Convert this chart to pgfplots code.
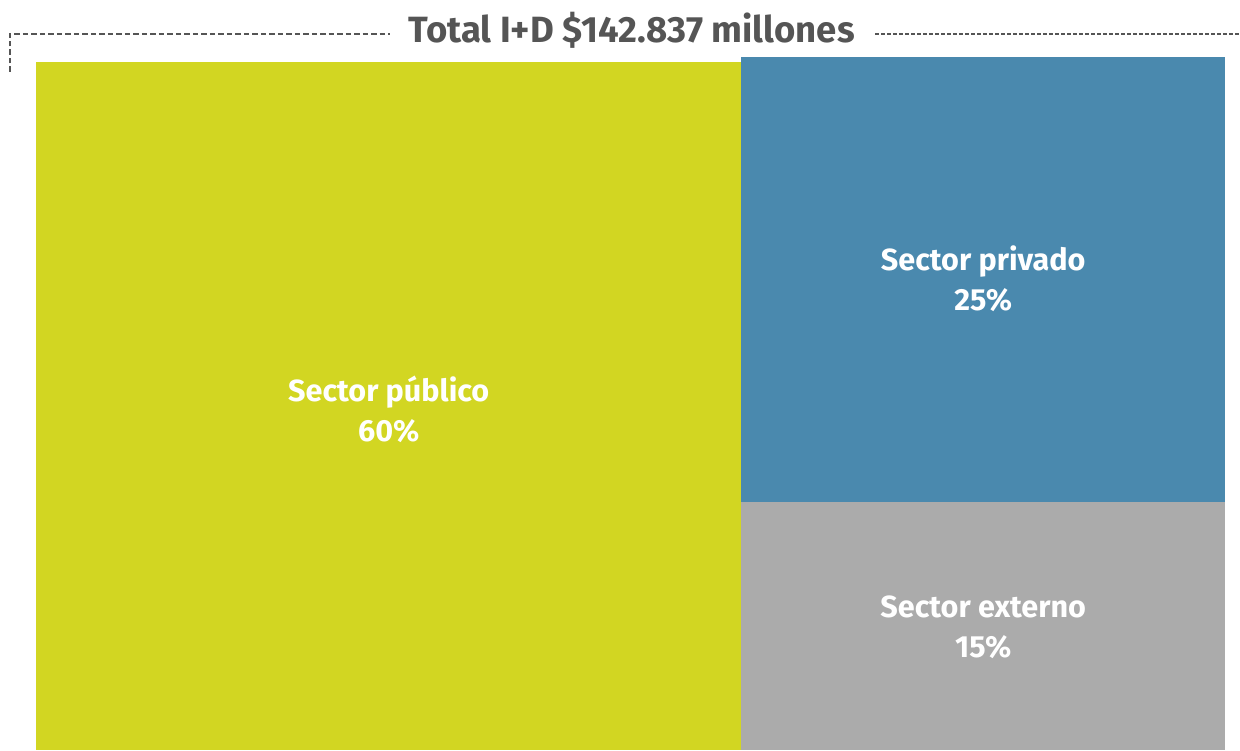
\documentclass[border=0pt]{standalone}
\usepackage{pgfplots}
\pgfplotsset{compat=1.18}
\usepackage{fontspec}
\setmainfont{Fira Sans}

\definecolor{cpub}{HTML}{D2D622}
\definecolor{cpriv}{HTML}{4A89AE}
\definecolor{cext}{HTML}{ABABAB}
\definecolor{ctitle}{HTML}{555555}

\begin{document}
\begin{tikzpicture}
\begin{axis}[
    scale only axis,
    width=12.4cm, height=7.51cm,
    xmin=0, xmax=1240,
    ymin=0, ymax=751,
    y dir=reverse,
    hide axis,
    clip=false,
]
% treemap blocks (pixel layout of the reference)
\addplot[fill=cpub, draw=none] coordinates {(36,62) (742,62) (742,751) (36,751)} -- cycle;
\addplot[fill=cpriv, draw=none] coordinates {(742,57) (1226,57) (1226,502) (742,502)} -- cycle;
\addplot[fill=cext, draw=none] coordinates {(742,502) (1226,502) (1226,751) (742,751)} -- cycle;

\path (axis cs:0,0) (axis cs:1240,751);

\draw[ctitle, line width=0.55pt, dash pattern=on 0.55mm off 0.3mm]
    (axis cs:10,72) -- (axis cs:10,34) -- (axis cs:390,34);
\draw[ctitle, line width=0.55pt, dash pattern=on 0.35mm off 0.25mm]
    (axis cs:876,34) -- (axis cs:1240,34);
\node[text=ctitle, font=\fontsize{10.4}{12}\selectfont\bfseries, inner sep=0pt]
    at (axis cs:632,30) {Total I+D \$142.837 millones};

\node[text=white, font=\fontsize{8.7}{11.4}\selectfont\bfseries, align=center]
    at (axis cs:389,410) {Sector público\\60\%};
\node[text=white, font=\fontsize{8.7}{11.4}\selectfont\bfseries, align=center]
    at (axis cs:984,279) {Sector privado\\25\%};
\node[text=white, font=\fontsize{8.7}{11.4}\selectfont\bfseries, align=center]
    at (axis cs:984,628) {Sector externo\\15\%};
\end{axis}
\end{tikzpicture}
\end{document}
